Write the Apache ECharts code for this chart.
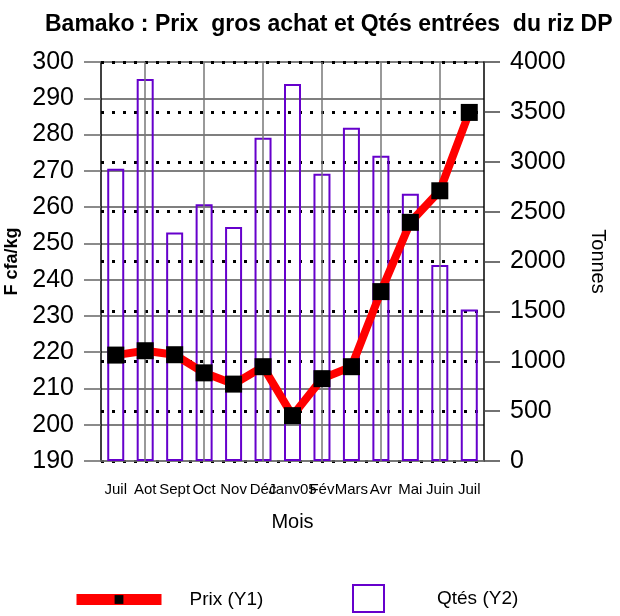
<!DOCTYPE html>
<html>
<head>
<meta charset="utf-8">
<script src="https://cdn.jsdelivr.net/npm/echarts@6/dist/echarts.min.js"></script>
<style>
  html, body { margin: 0; padding: 0; background: #fff; }
</style>
</head>
<body>
<div id="chart" style="width:620px;height:616px;"></div>
<script>
// mois (x)
var months = ['Juil', 'Aot', 'Sept', 'Oct', 'Nov', 'Déc', 'Janv05', 'Fév', 'Mars', 'Avr', 'Mai', 'Juin', 'Juil']
// prix gros achat, F cfa/kg (Y1)
var prix = [219.2, 220.4, 219.3, 214.3, 211.2, 216, 202.5, 212.7, 216, 236.7, 255.8, 264.5, 286.1]
// quantités entrées, tonnes (Y2)
var qtes = [2930, 3830, 2290, 2575, 2345, 3240, 3780, 2880, 3340, 3060, 2680, 1965, 1520]

var chart = echarts.init(document.getElementById('chart'))

// lignes verticales une catégorie sur deux
var vLines = []
for (var i = 1; i < months.length; i += 2) {
  vLines.push({ xAxis: i })
}

var font = 'Liberation Sans, Arial, sans-serif'

var option = {
  animation: false,
  backgroundColor: '#fff',
  title: {
    text: 'Bamako : Prix  gros achat et Qtés entrées  du riz DP',
    left: 40,
    top: 8,
    textStyle: {
      fontFamily: font,
      fontWeight: 'bold',
      fontSize: 23,
      color: '#000'
    }
  },
  legend: [
    {
      data: ['Prix (Y1)'],
      left: 71,
      top: 590,
      padding: 0,
      itemWidth: 85,
      itemHeight: 11,
      lineStyle: { width: 11, color: '#FF0000' },
      textStyle: { fontFamily: font, fontSize: 19, color: '#000', padding: [0, 0, 0, 23] }
    },
    {
      data: ['Qtés (Y2)'],
      icon: 'rect',
      left: 352,
      top: 584,
      padding: 0,
      itemWidth: 31,
      itemHeight: 27,
      textStyle: { fontFamily: font, fontSize: 19, color: '#000', padding: [0, 0, 0, 48] }
    }
  ],
  grid: {
    left: 101,
    right: 136,
    top: 62,
    bottom: 155,
    outerBoundsMode: 'none'
  },
  xAxis: {
    type: 'category',
    data: months,
    name: 'Mois',
    nameLocation: 'middle',
    nameGap: 51,
    nameTextStyle: { fontFamily: font, fontSize: 20, color: '#000' },
    axisLine: { lineStyle: { color: '#777', width: 1.5 } },
    axisTick: { alignWithLabel: true, length: 10, lineStyle: { color: '#000' } },
    axisLabel: { interval: 0, fontFamily: font, fontSize: 15, color: '#000', margin: 21 },
    splitLine: { show: false }
  },
  yAxis: [
    {
      type: 'value',
      min: 190,
      max: 300,
      interval: 10,
      name: 'F cfa/kg',
      nameLocation: 'middle',
      nameRotate: 90,
      nameGap: 73,
      nameTextStyle: { fontFamily: font, fontSize: 18, fontWeight: 'bold', color: '#000' },
      axisLine: { show: true, lineStyle: { color: '#000', width: 1.5 } },
      axisTick: { show: true, length: 17, lineStyle: { color: '#666', width: 1.5 } },
      axisLabel: { fontFamily: font, fontSize: 25, color: '#000', margin: 27 },
      splitLine: { show: true, lineStyle: { color: '#555', width: 1.5 } }
    },
    {
      type: 'value',
      min: 0,
      max: 4000,
      interval: 500,
      name: 'Tonnes',
      nameLocation: 'middle',
      nameRotate: -90,
      nameGap: 104,
      nameTextStyle: { fontFamily: font, fontSize: 20, color: '#000' },
      axisLine: { show: true, lineStyle: { color: '#000', width: 1.5 } },
      axisTick: { show: true, length: 16, lineStyle: { color: '#444', width: 1.5 } },
      axisLabel: {
        fontFamily: font,
        fontSize: 25,
        color: '#000',
        margin: 26,
        formatter: function (v) { return String(v) }
      },
      splitLine: { show: true, lineStyle: { color: '#000', width: 3, type: [3, 8] } }
    }
  ],
  series: [
    {
      name: 'Qtés (Y2)',
      type: 'bar',
      yAxisIndex: 1,
      barWidth: 17,
      data: qtes,
      itemStyle: {
        color: 'rgba(0,0,0,0)',
        borderColor: '#6600CC',
        borderWidth: 2
      },
      markLine: {
        silent: true,
        symbol: 'none',
        label: { show: false },
        lineStyle: { color: '#777', width: 1.5, type: 'solid' },
        data: vLines
      }
    },
    {
      name: 'Prix (Y1)',
      type: 'line',
      yAxisIndex: 0,
      data: prix,
      symbol: 'rect',
      symbolSize: 17,
      itemStyle: { color: '#000' },
      lineStyle: { color: '#FF0000', width: 8 },
      z: 5
    }
  ]
}

chart.setOption(option)
</script>
</body>
</html>
